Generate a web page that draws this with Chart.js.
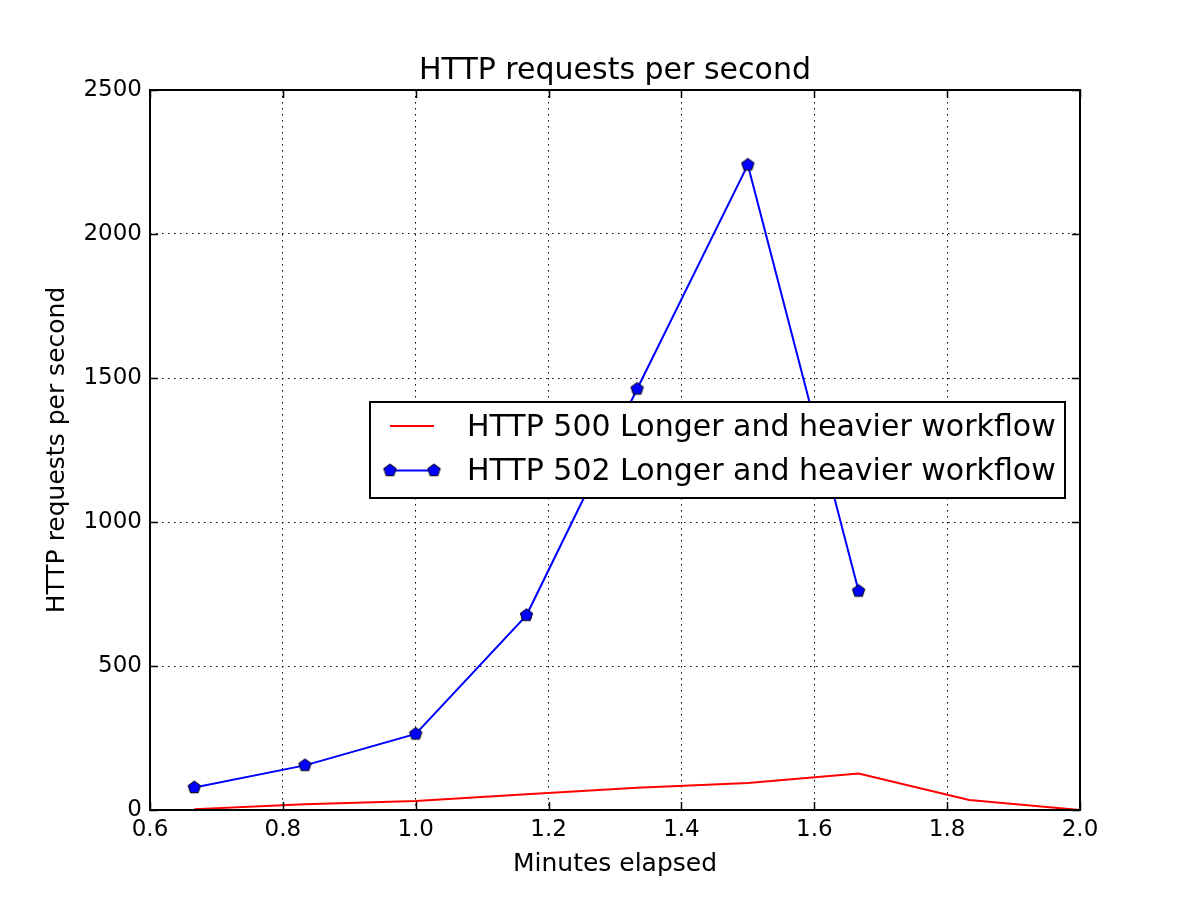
<!DOCTYPE html>
<html>
<head>
<meta charset="utf-8">
<script src="https://cdn.jsdelivr.net/npm/chart.js@4"></script>
<style>
  html, body { margin: 0; padding: 0; background: #fff; }
  #wrap { width: 1200px; height: 900px; }
</style>
</head>
<body>
<div id="wrap"><canvas id="c" width="1200" height="900"></canvas></div>
<script>
// ---- data ----
const minutes = [0.6667, 0.8333, 1.0, 1.1667, 1.3333, 1.5, 1.6667, 1.8333, 2.0];
const http500 = [3, 20, 31, 55, 77, 94, 127, 35, 0];
const http502 = [78, 155, 264, 676, 1462, 2240, 760];
const seriesLabels = ['HTTP 500 Longer and heavier workflow', 'HTTP 502 Longer and heavier workflow'];
const xTicks = [0.6, 0.8, 1.0, 1.2, 1.4, 1.6, 1.8, 2.0];
const yTicks = [0, 500, 1000, 1500, 2000, 2500];
const titleText = 'HTTP requests per second';
const xTitle = 'Minutes elapsed';
const yTitle = 'HTTP requests per second';

const FONT = '"DejaVu Sans", sans-serif';

function pentagon(r, fill, stroke) {
  const s = Math.ceil(r * 2 + 4);
  const cv = document.createElement('canvas');
  cv.width = s; cv.height = s;
  const g = cv.getContext('2d');
  g.beginPath();
  for (let i = 0; i < 5; i++) {
    const a = -Math.PI / 2 + i * 2 * Math.PI / 5;
    const px = s / 2 + r * Math.cos(a), py = s / 2 + r * Math.sin(a);
    if (i === 0) g.moveTo(px, py); else g.lineTo(px, py);
  }
  g.closePath();
  g.fillStyle = fill; g.fill();
  g.lineWidth = 1; g.strokeStyle = stroke; g.stroke();
  return cv;
}
const penta = pentagon(6.5, '#0000ff', '#000000');

const d500 = minutes.map((x, i) => ({ x: x, y: http500[i] }));
const d502 = http502.map((y, i) => ({ x: minutes[i], y: y }));

const decor = {
  id: 'decor',
  afterDraw(chart) {
    const ctx = chart.ctx;
    const a = chart.chartArea;
    const xs = chart.scales.x, ys = chart.scales.y;
    ctx.save();
    // inward ticks
    ctx.strokeStyle = '#000'; ctx.lineWidth = 1.5;
    ctx.beginPath();
    xTicks.forEach(v => {
      const px = Math.round(xs.getPixelForValue(v)) + 0.5;
      ctx.moveTo(px, a.bottom); ctx.lineTo(px, a.bottom - 8);
      ctx.moveTo(px, a.top); ctx.lineTo(px, a.top + 8);
    });
    yTicks.forEach(v => {
      const py = Math.round(ys.getPixelForValue(v)) + 0.5;
      ctx.moveTo(a.left, py); ctx.lineTo(a.left + 8, py);
      ctx.moveTo(a.right, py); ctx.lineTo(a.right - 8, py);
    });
    ctx.stroke();
    // frame
    ctx.lineWidth = 2;
    ctx.strokeRect(a.left, a.top, a.right - a.left, a.bottom - a.top);
    // title
    ctx.fillStyle = '#000';
    ctx.font = '30px ' + FONT;
    ctx.textAlign = 'center'; ctx.textBaseline = 'alphabetic';
    ctx.fillText(titleText, (a.left + a.right) / 2, 79);
    // axis titles
    ctx.font = '25px ' + FONT;
    ctx.fillText(xTitle, (a.left + a.right) / 2, 871);
    ctx.save();
    ctx.translate(64, (a.top + a.bottom) / 2);
    ctx.rotate(-Math.PI / 2);
    ctx.fillText(yTitle, 0, 0);
    ctx.restore();
    // legend
    const lx = 370, ly = 402, lw = 695, lh = 96;
    ctx.fillStyle = '#fff';
    ctx.fillRect(lx, ly, lw, lh);
    ctx.lineWidth = 2; ctx.strokeStyle = '#000';
    ctx.strokeRect(lx, ly, lw, lh);
    // row 1
    ctx.strokeStyle = '#ff0000'; ctx.lineWidth = 2;
    ctx.beginPath(); ctx.moveTo(390, 426); ctx.lineTo(434, 426); ctx.stroke();
    // row 2
    ctx.strokeStyle = '#0000ff';
    ctx.beginPath(); ctx.moveTo(390, 470.5); ctx.lineTo(434, 470.5); ctx.stroke();
    ctx.drawImage(penta, 390 - penta.width / 2, 470.5 - penta.height / 2);
    ctx.drawImage(penta, 434 - penta.width / 2, 470.5 - penta.height / 2);
    ctx.fillStyle = '#000';
    ctx.font = '30px ' + FONT;
    ctx.textAlign = 'left';
    ctx.fillText(chart.data.datasets[0].label, 467, 436);
    ctx.fillText(chart.data.datasets[1].label, 467, 480);
    ctx.restore();
  }
};

new Chart(document.getElementById('c'), {
  type: 'line',
  data: {
    datasets: [
      { label: seriesLabels[0], data: d500, borderColor: '#ff0000', borderWidth: 2,
        pointRadius: 0, fill: false, tension: 0 },
      { label: seriesLabels[1], data: d502, borderColor: '#0000ff', borderWidth: 2,
        pointStyle: penta, pointRadius: 6, fill: false, tension: 0 }
    ]
  },
  options: {
    responsive: false,
    animation: false,
    devicePixelRatio: 1,
    layout: { padding: { top: 90, right: 120, left: 0, bottom: 0 } },
    plugins: { legend: { display: false }, title: { display: false }, tooltip: { enabled: false } },
    scales: {
      x: {
        type: 'linear', min: 0.6, max: 2.0,
        afterBuildTicks: s => { s.ticks = xTicks.map(v => ({ value: v })); },
        afterFit: s => { s.height = 90; },
        ticks: { color: '#000', font: { family: FONT, size: 23 }, padding: 6,
                 callback: v => Number(v).toFixed(1), maxRotation: 0, autoSkip: false },
        grid: { color: '#000', lineWidth: 1, tickLength: 0, drawTicks: false },
        border: { display: false, dash: [1.5, 4.5] }
      },
      y: {
        type: 'linear', min: 0, max: 2500,
        afterBuildTicks: s => { s.ticks = yTicks.map(v => ({ value: v })); },
        afterFit: s => { s.width = 150; },
        ticks: { color: '#000', font: { family: FONT, size: 23 }, padding: 8, autoSkip: false,
                 callback: v => String(v) },
        grid: { color: '#000', lineWidth: 1, tickLength: 0, drawTicks: false },
        border: { display: false, dash: [1.5, 4.5] }
      }
    }
  },
  plugins: [decor]
});
</script>
</body>
</html>
